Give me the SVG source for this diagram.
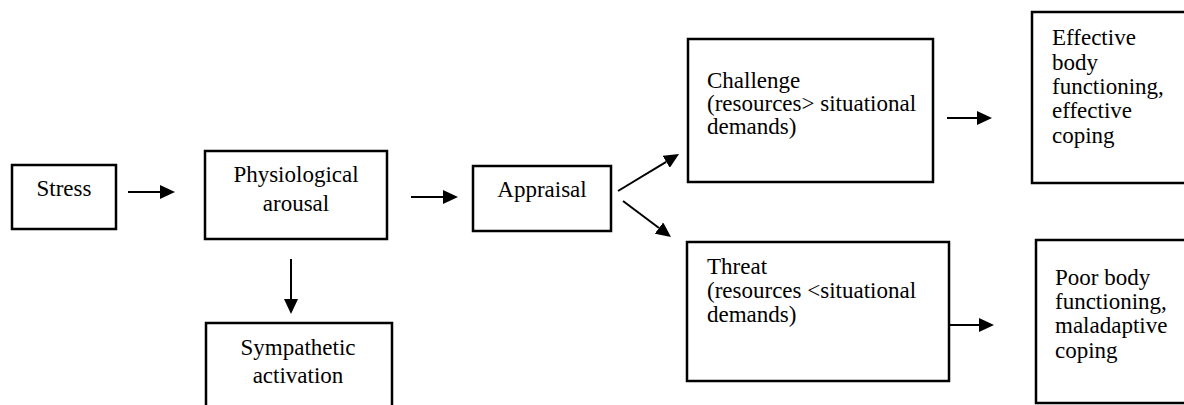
<svg xmlns="http://www.w3.org/2000/svg" width="1184" height="405" viewBox="0 0 1184 405">
<style>
.box{fill:#fff;stroke:#000;stroke-width:2.5}
text{font-family:'Liberation Serif',serif;font-size:23px;fill:#000}
.c{text-anchor:middle}
.ln{stroke:#000;stroke-width:2;fill:none;marker-end:url(#ah)}
</style>
<defs>
<marker id="ah" markerUnits="userSpaceOnUse" markerWidth="16" markerHeight="14" refX="0" refY="7" orient="auto">
<path d="M0,0 L15,7 L0,14 z" fill="#000"/>
</marker>
</defs>
<rect width="1184" height="405" fill="#fff"/>
<g font-family="Liberation Serif, serif" font-size="23">
<g id="stress">
<rect class="box" x="12" y="165" width="104" height="64"/>
<text class="c" x="64" y="196">Stress</text>
</g>
<g id="physiological">
<rect class="box" x="205" y="151" width="182" height="88"/>
<text class="c" x="296" y="182">Physiological</text>
<text class="c" x="296" y="211">arousal</text>
</g>
<g id="sympathetic">
<rect class="box" x="206" y="323" width="186" height="90"/>
<text class="c" x="298" y="355">Sympathetic</text>
<text class="c" x="298" y="383">activation</text>
</g>
<g id="appraisal">
<rect class="box" x="473" y="166" width="138" height="65"/>
<text class="c" x="542" y="197">Appraisal</text>
</g>
<g id="challenge">
<rect class="box" x="688" y="39" width="245" height="143"/>
<text x="707" y="88">Challenge</text>
<text x="707" y="111">(resources&gt; situational</text>
<text x="707" y="134">demands)</text>
</g>
<g id="threat">
<rect class="box" x="687" y="242" width="262" height="139"/>
<text x="707" y="274">Threat</text>
<text x="707" y="298">(resources &lt;situational</text>
<text x="707" y="322">demands)</text>
</g>
<g id="effective">
<rect class="box" x="1032" y="12" width="154" height="171"/>
<text x="1052" y="45">Effective</text>
<text x="1052" y="70">body</text>
<text x="1052" y="94">functioning,</text>
<text x="1052" y="118">effective</text>
<text x="1052" y="143">coping</text>
</g>
<g id="poor">
<rect class="box" x="1036" y="240" width="150" height="163"/>
<text x="1055" y="285">Poor body</text>
<text x="1055" y="309">functioning,</text>
<text x="1055" y="333">maladaptive</text>
<text x="1055" y="358">coping</text>
</g>
</g>
<g id="connectors">
<line class="ln" x1="128" y1="192" x2="160" y2="192"/>
<line class="ln" x1="411" y1="197" x2="443" y2="197"/>
<line class="ln" x1="291" y1="259" x2="291" y2="299"/>
<line class="ln" x1="618" y1="191" x2="666.2" y2="161.8"/>
<line class="ln" x1="623" y1="201" x2="659" y2="228"/>
<line class="ln" x1="947" y1="118" x2="977" y2="118"/>
<line class="ln" x1="948" y1="325" x2="979" y2="325"/>
</g>
</svg>
